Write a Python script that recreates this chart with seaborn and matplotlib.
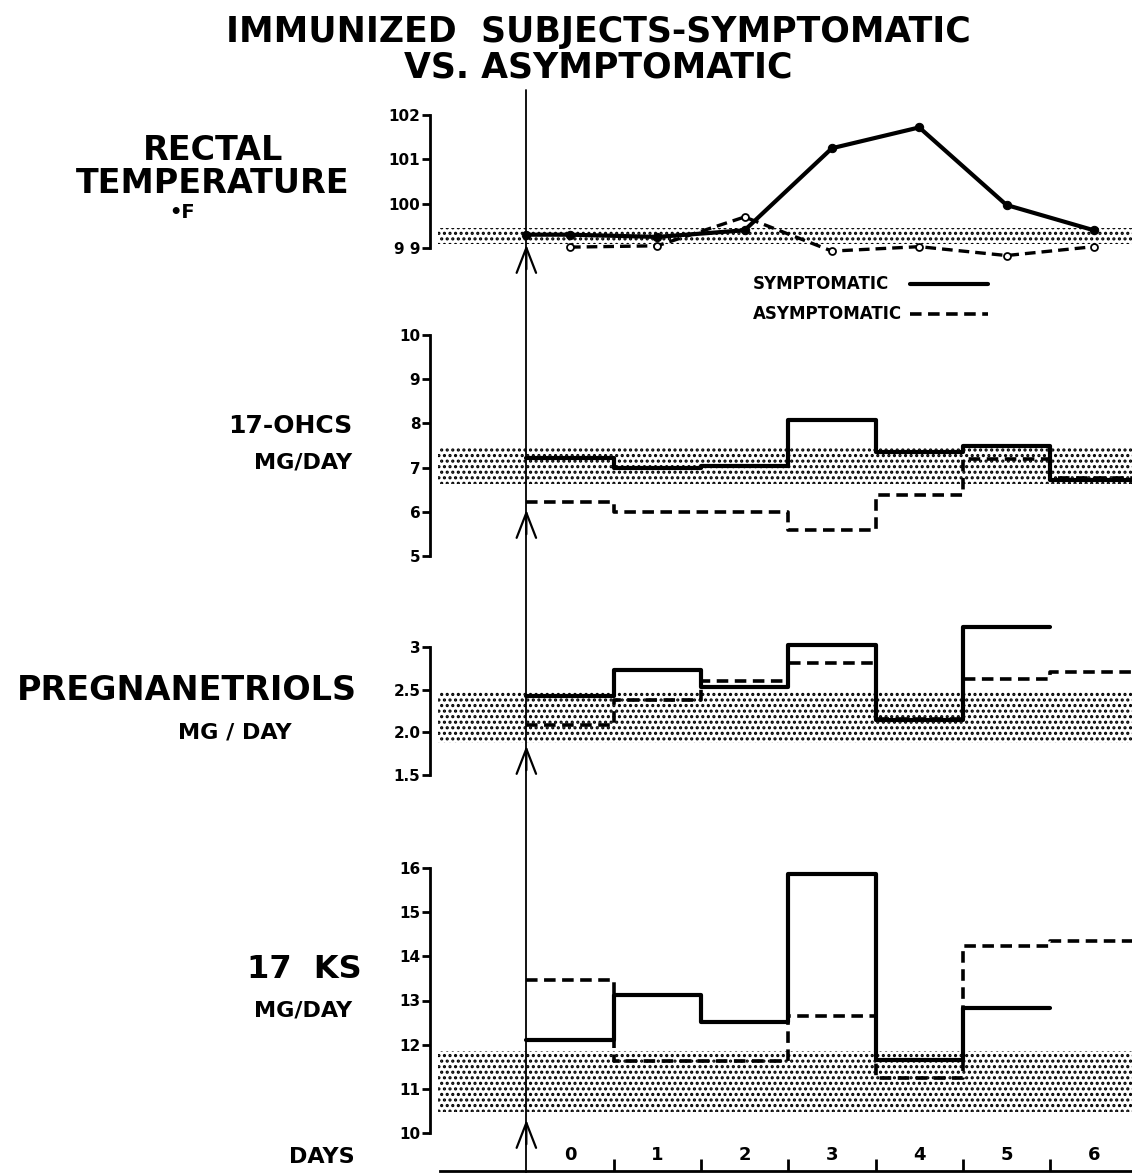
import numpy as np
import pandas as pd
import matplotlib
matplotlib.use("Agg")
import matplotlib.pyplot as plt
import seaborn as sns
from matplotlib.lines import Line2D

# ---------------- data ----------------
days = [0, 1, 2, 3, 4, 5, 6]
day_labels = ["0", "1", "2", "3", "4", "5", "6"]

temp_sym_x = [-0.5, 0, 1, 2, 3, 4, 5, 6]
temp_sym = [99.3, 99.3, 99.25, 99.4, 101.25, 101.72, 99.97, 99.4]
temp_asym_x = [0, 1, 2, 3, 4, 5, 6]
temp_asym = [99.02, 99.05, 99.7, 98.93, 99.03, 98.83, 99.03]
temp_normal = (99.08, 99.45)
temp_ticks = [99, 100, 101, 102]
temp_ticklabels = ["9 9", "100", "101", "102"]

ohcs_sym = [7.22, 7.0, 7.03, 8.07, 7.35, 7.5, 6.72]
ohcs_asym = [6.23, 6.0, 6.0, 5.58, 6.39, 7.2, 6.76]
ohcs_normal = (6.64, 7.46)
ohcs_ticks = [5, 6, 7, 8, 9, 10]
ohcs_ticklabels = ["5", "6", "7", "8", "9", "10"]

preg_sym = [2.42, 2.735, 2.53, 3.02, 2.14, 3.24]
preg_asym = [2.09, 2.38, 2.60, 2.81, 2.16, 2.62, 2.71]
preg_normal = (1.88, 2.49)
preg_ticks = [1.5, 2.0, 2.5, 3.0]
preg_ticklabels = ["1.5", "2.0", "2.5", "3"]

ks_sym = [12.1, 13.12, 12.51, 15.86, 11.65, 12.83]
ks_asym = [13.46, 11.64, 11.64, 12.66, 11.25, 14.24, 14.34]
ks_normal = (10.48, 11.86)
ks_ticks = [10, 11, 12, 13, 14, 15, 16]
ks_ticklabels = ["10", "11", "12", "13", "14", "15", "16"]

title_lines = ["IMMUNIZED  SUBJECTS-SYMPTOMATIC", "VS. ASYMPTOMATIC"]
legend_labels = ["SYMPTOMATIC", "ASYMPTOMATIC"]

# ---------------- style ----------------
sns.set_style("white")
plt.rcParams["font.family"] = ["DejaVu Sans"]
plt.rcParams["font.weight"] = "bold"
plt.rcParams["text.color"] = "black"
plt.rcParams["axes.labelcolor"] = "black"
plt.rcParams["xtick.color"] = "black"
plt.rcParams["ytick.color"] = "black"
plt.rcParams["axes.edgecolor"] = "black"
plt.rcParams["hatch.linewidth"] = 1.5
plt.rcParams["hatch.color"] = "black"

W, H = 1132, 1173
fig = plt.figure(figsize=(W / 100, H / 100), dpi=100)
fig.patch.set_facecolor("white")

X_DAY0 = 570.0
PX_PER_DAY = 87.3


def xdata(px):
    return (px - X_DAY0) / PX_PER_DAY


def fx(px):
    return px / W


def fy(py):
    return 1 - py / H


def ft(xp, yp, s, **kw):
    return fig.text(fx(xp), fy(yp), s, **kw)


def steps(vals):
    x = [d - 0.5 for d in range(len(vals))] + [len(vals) - 0.5]
    y = list(vals) + [vals[-1]]
    return pd.DataFrame({"day": x, "value": y})


LEFT = 430
LW = 3.0
LW_D = 2.6
DASH = (0, (3.2, 1.8))


def add_panel(top, bot, va, pa, vb, pb, ticks, ticklabels, normal):
    ax = fig.add_axes([fx(LEFT), fy(bot), (W - LEFT) / W, (bot - top) / H])
    ax.set_xlim(xdata(LEFT), xdata(W))
    scale = (pb - pa) / (va - vb)
    ax.set_ylim(vb - (bot - pb) / scale, va + (pa - top) / scale)
    ax.patch.set_alpha(0)
    for s in ["top", "right", "bottom"]:
        ax.spines[s].set_visible(False)
    ax.spines["left"].set_linewidth(2)
    ax.spines["left"].set_bounds(min(ticks), max(ticks))
    ax.set_yticks(ticks)
    ax.set_yticklabels(ticklabels, fontsize=11, fontweight="bold")
    ax.tick_params(axis="y", direction="out", length=6, width=2, pad=1, left=True)
    ax.set_xticks([])
    ax.fill_between([xdata(438), xdata(W) + 0.2], normal[0], normal[1],
                    facecolor="white", edgecolor="black", hatch="...", linewidth=0, zorder=1)
    return ax


def finish(ax):
    ax.set_xlabel("")
    ax.set_ylabel("")


# ---------------- temperature ----------------
ax_t = add_panel(95, 268, 102, 115, 99, 248, temp_ticks, temp_ticklabels, temp_normal)
df_ts = pd.DataFrame({"day": temp_sym_x, "value": temp_sym})
df_ta = pd.DataFrame({"day": temp_asym_x, "value": temp_asym})
sns.lineplot(data=df_ta, x="day", y="value", ax=ax_t, color="black", lw=2.4,
             linestyle=DASH, marker="o", markersize=5, markerfacecolor="white",
             markeredgecolor="black", markeredgewidth=1.3, estimator=None, zorder=3)
sns.lineplot(data=df_ts, x="day", y="value", ax=ax_t, color="black", lw=LW,
             marker="o", markersize=6, markeredgecolor="black", estimator=None, zorder=4)
finish(ax_t)

# ---------------- 17-OHCS ----------------
ax_o = add_panel(320, 578, 10, 335, 5, 556, ohcs_ticks, ohcs_ticklabels, ohcs_normal)
sns.lineplot(data=steps(ohcs_asym), x="day", y="value", ax=ax_o, color="black", lw=LW_D,
             linestyle=DASH, drawstyle="steps-post", estimator=None, zorder=3)
sns.lineplot(data=steps(ohcs_sym), x="day", y="value", ax=ax_o, color="black", lw=LW,
             drawstyle="steps-post", estimator=None, zorder=4)
finish(ax_o)

# ---------------- pregnanetriols ----------------
ax_p = add_panel(612, 790, 3, 647, 1.5, 775, preg_ticks, preg_ticklabels, preg_normal)
sns.lineplot(data=steps(preg_asym), x="day", y="value", ax=ax_p, color="black", lw=LW_D,
             linestyle=DASH, drawstyle="steps-post", estimator=None, zorder=3)
sns.lineplot(data=steps(preg_sym), x="day", y="value", ax=ax_p, color="black", lw=LW,
             drawstyle="steps-post", estimator=None, zorder=4)
finish(ax_p)

# ---------------- 17 KS ----------------
ax_k = add_panel(850, 1140, 16, 868, 10, 1133, ks_ticks, ks_ticklabels, ks_normal)
sns.lineplot(data=steps(ks_asym), x="day", y="value", ax=ax_k, color="black", lw=LW_D,
             linestyle=DASH, drawstyle="steps-post", estimator=None, zorder=3)
sns.lineplot(data=steps(ks_sym), x="day", y="value", ax=ax_k, color="black", lw=LW,
             drawstyle="steps-post", estimator=None, zorder=4)
finish(ax_k)

# ---------------- overlay: injection line and arrows ----------------
ov = fig.add_axes([fx(LEFT), 0, (W - LEFT) / W, 1])
ov.set_xlim(xdata(LEFT), xdata(W))
ov.set_ylim(H, 0)
ov.axis("off")
ov.patch.set_alpha(0)
ov.axvline(-0.5, ymin=0, ymax=(H - 90) / H, color="black", lw=1.3, zorder=6)
for tip in [242, 507, 743, 1117]:
    ov.annotate("", xy=(-0.5, tip), xytext=(-0.5, tip + 30),
                arrowprops=dict(arrowstyle="->,head_length=0.9,head_width=0.35",
                                color="black", lw=1.6, mutation_scale=20))

# ---------------- days axis ----------------
ax_d = fig.add_axes([fx(440), fy(1171), (W - 440) / W, 32 / H])
ax_d.set_xlim(xdata(440), xdata(W))
ax_d.set_ylim(0, 1)
ax_d.patch.set_alpha(0)
for s in ["top", "right", "left"]:
    ax_d.spines[s].set_visible(False)
ax_d.spines["bottom"].set_linewidth(2)
ax_d.set_xticks([d + 0.5 for d in days[:-1]])
ax_d.set_xticklabels([])
ax_d.set_yticks([])
ax_d.tick_params(axis="x", direction="in", length=9, width=2, bottom=True)
for d, lab in zip(days, day_labels):
    ax_d.text(d, 0.5, lab, ha="center", va="center", fontsize=13, fontweight="bold")

# ---------------- legend (text left, line sample right) ----------------
leg_styles = [dict(lw=LW), dict(lw=LW_D, linestyle=DASH)]
for i, (lab, sty) in enumerate(zip(legend_labels, leg_styles)):
    yy = 284 + 30 * i
    ft(753, yy, lab, ha="left", va="center", fontsize=12, fontweight="bold")
    fig.add_artist(Line2D([fx(910), fx(988)], [fy(yy), fy(yy)], color="black",
                          transform=fig.transFigure, **sty))

# ---------------- texts ----------------
ft(598, 32, title_lines[0], ha="center", va="center", fontsize=25, fontweight="bold")
ft(598, 68, title_lines[1], ha="center", va="center", fontsize=25, fontweight="bold")

ft(350, 167, "RECTAL\nTEMPERATURE", ha="right", va="center", ma="center",
   fontsize=24, fontweight="bold", linespacing=0.98)
ft(182, 212, "•F", ha="center", va="center", fontsize=14, fontweight="bold")

ft(352, 426, "17-OHCS", ha="right", va="center", fontsize=18, fontweight="bold")
ft(352, 463, "MG/DAY", ha="right", va="center", fontsize=16, fontweight="bold")

ft(357, 690, "PREGNANETRIOLS", ha="right", va="center", fontsize=24, fontweight="bold")
ft(292, 732, "MG / DAY", ha="right", va="center", fontsize=16, fontweight="bold")

ft(362, 970, "17  KS", ha="right", va="center", fontsize=23, fontweight="bold")
ft(352, 1010, "MG/DAY", ha="right", va="center", fontsize=16, fontweight="bold")

ft(355, 1157, "DAYS", ha="right", va="center", fontsize=16, fontweight="bold")

fig.savefig("out.png", dpi=100, facecolor="white")
